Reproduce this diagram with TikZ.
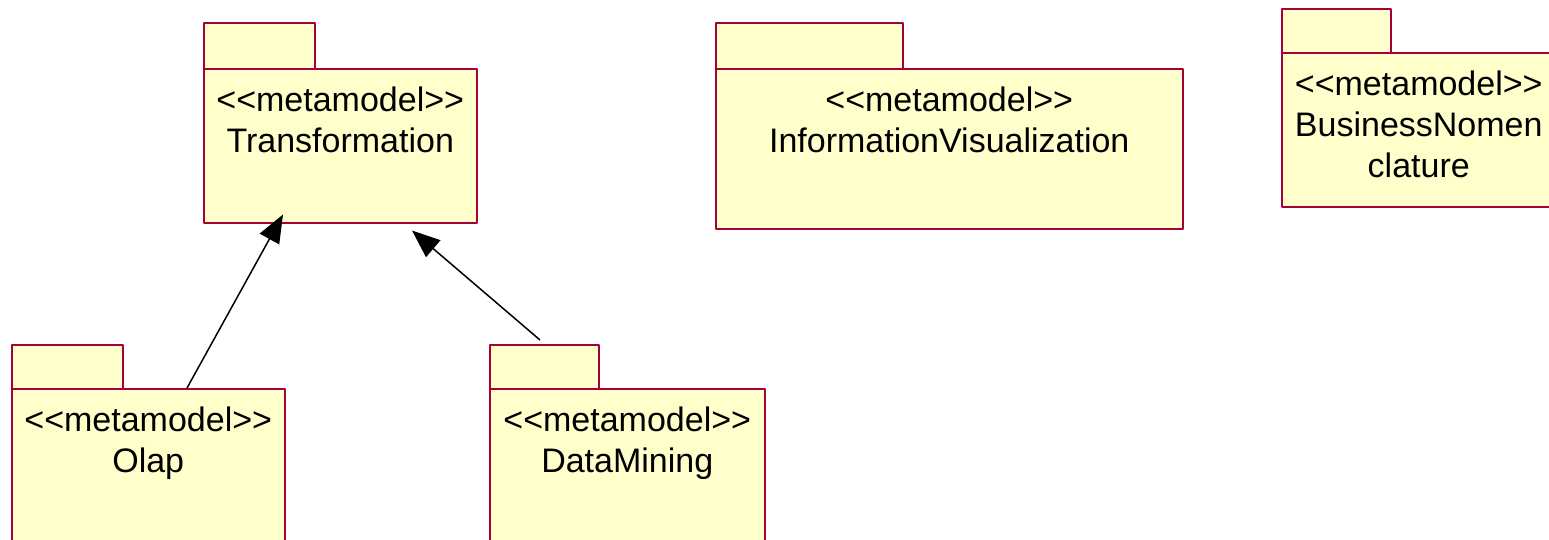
\documentclass[tikz,border=0pt]{standalone}
\usepackage{fontspec}
\setmainfont{Liberation Sans}
\usetikzlibrary{arrows.meta}
\definecolor{pkgfill}{RGB}{255,255,204}
\definecolor{pkgline}{RGB}{165,0,55}
\newcommand{\metamodeltag}{<\kern0pt<metamodel>\kern0pt>}
\begin{document}
\begin{tikzpicture}[x=1pt,y=-1pt,line join=round,
	pkgbody/.style={draw=pkgline,fill=pkgfill,line width=1.5pt,anchor=north west,inner sep=0pt},
	pkgtext/.style={anchor=north,inner sep=0pt,align=center,font=\fontsize{34}{41}\selectfont},
	gen/.style={line width=1.5pt,-{Triangle[length=28pt,width=22pt]}}]
	\useasboundingbox (0,0) rectangle (1549,539);
	\clip (0,0) rectangle (1549,539);
	%packages: name/x/y/width/height/tab width/tab height/text
	\foreach \p/\x/\y/\w/\h/\t/\s/\txt in {trans/203/68/273/154/111/46/Transformation,
		infovis/715/68/467/160/187/46/InformationVisualization,
		busnom/1281/52/274/154/109/44/{BusinessNomen\\clature},
		olap/11/388/273/160/111/44/Olap,
		dm/489/388/275/160/109/44/DataMining}
	{
		\node[pkgbody,minimum width=\t pt,minimum height=\s pt] (\p tab) at (\x,\y-\s) {};
		\node[pkgbody,minimum width=\w pt,minimum height=\h pt] (\p) at (\x,\y) {};
		\node[pkgtext] (\p txt) at ([yshift=-19pt]\p.north) {\metamodeltag\\\txt};
	}
	%generalizations
	\draw[gen] ([xshift=176pt]olap.north west)--([xshift=80pt,yshift=9pt]trans.south west);
	\draw[gen] ([xshift=51pt,yshift=4pt]dmtab.north west)--([xshift=209pt,yshift=-7pt]trans.south west);
\end{tikzpicture}
\end{document}
